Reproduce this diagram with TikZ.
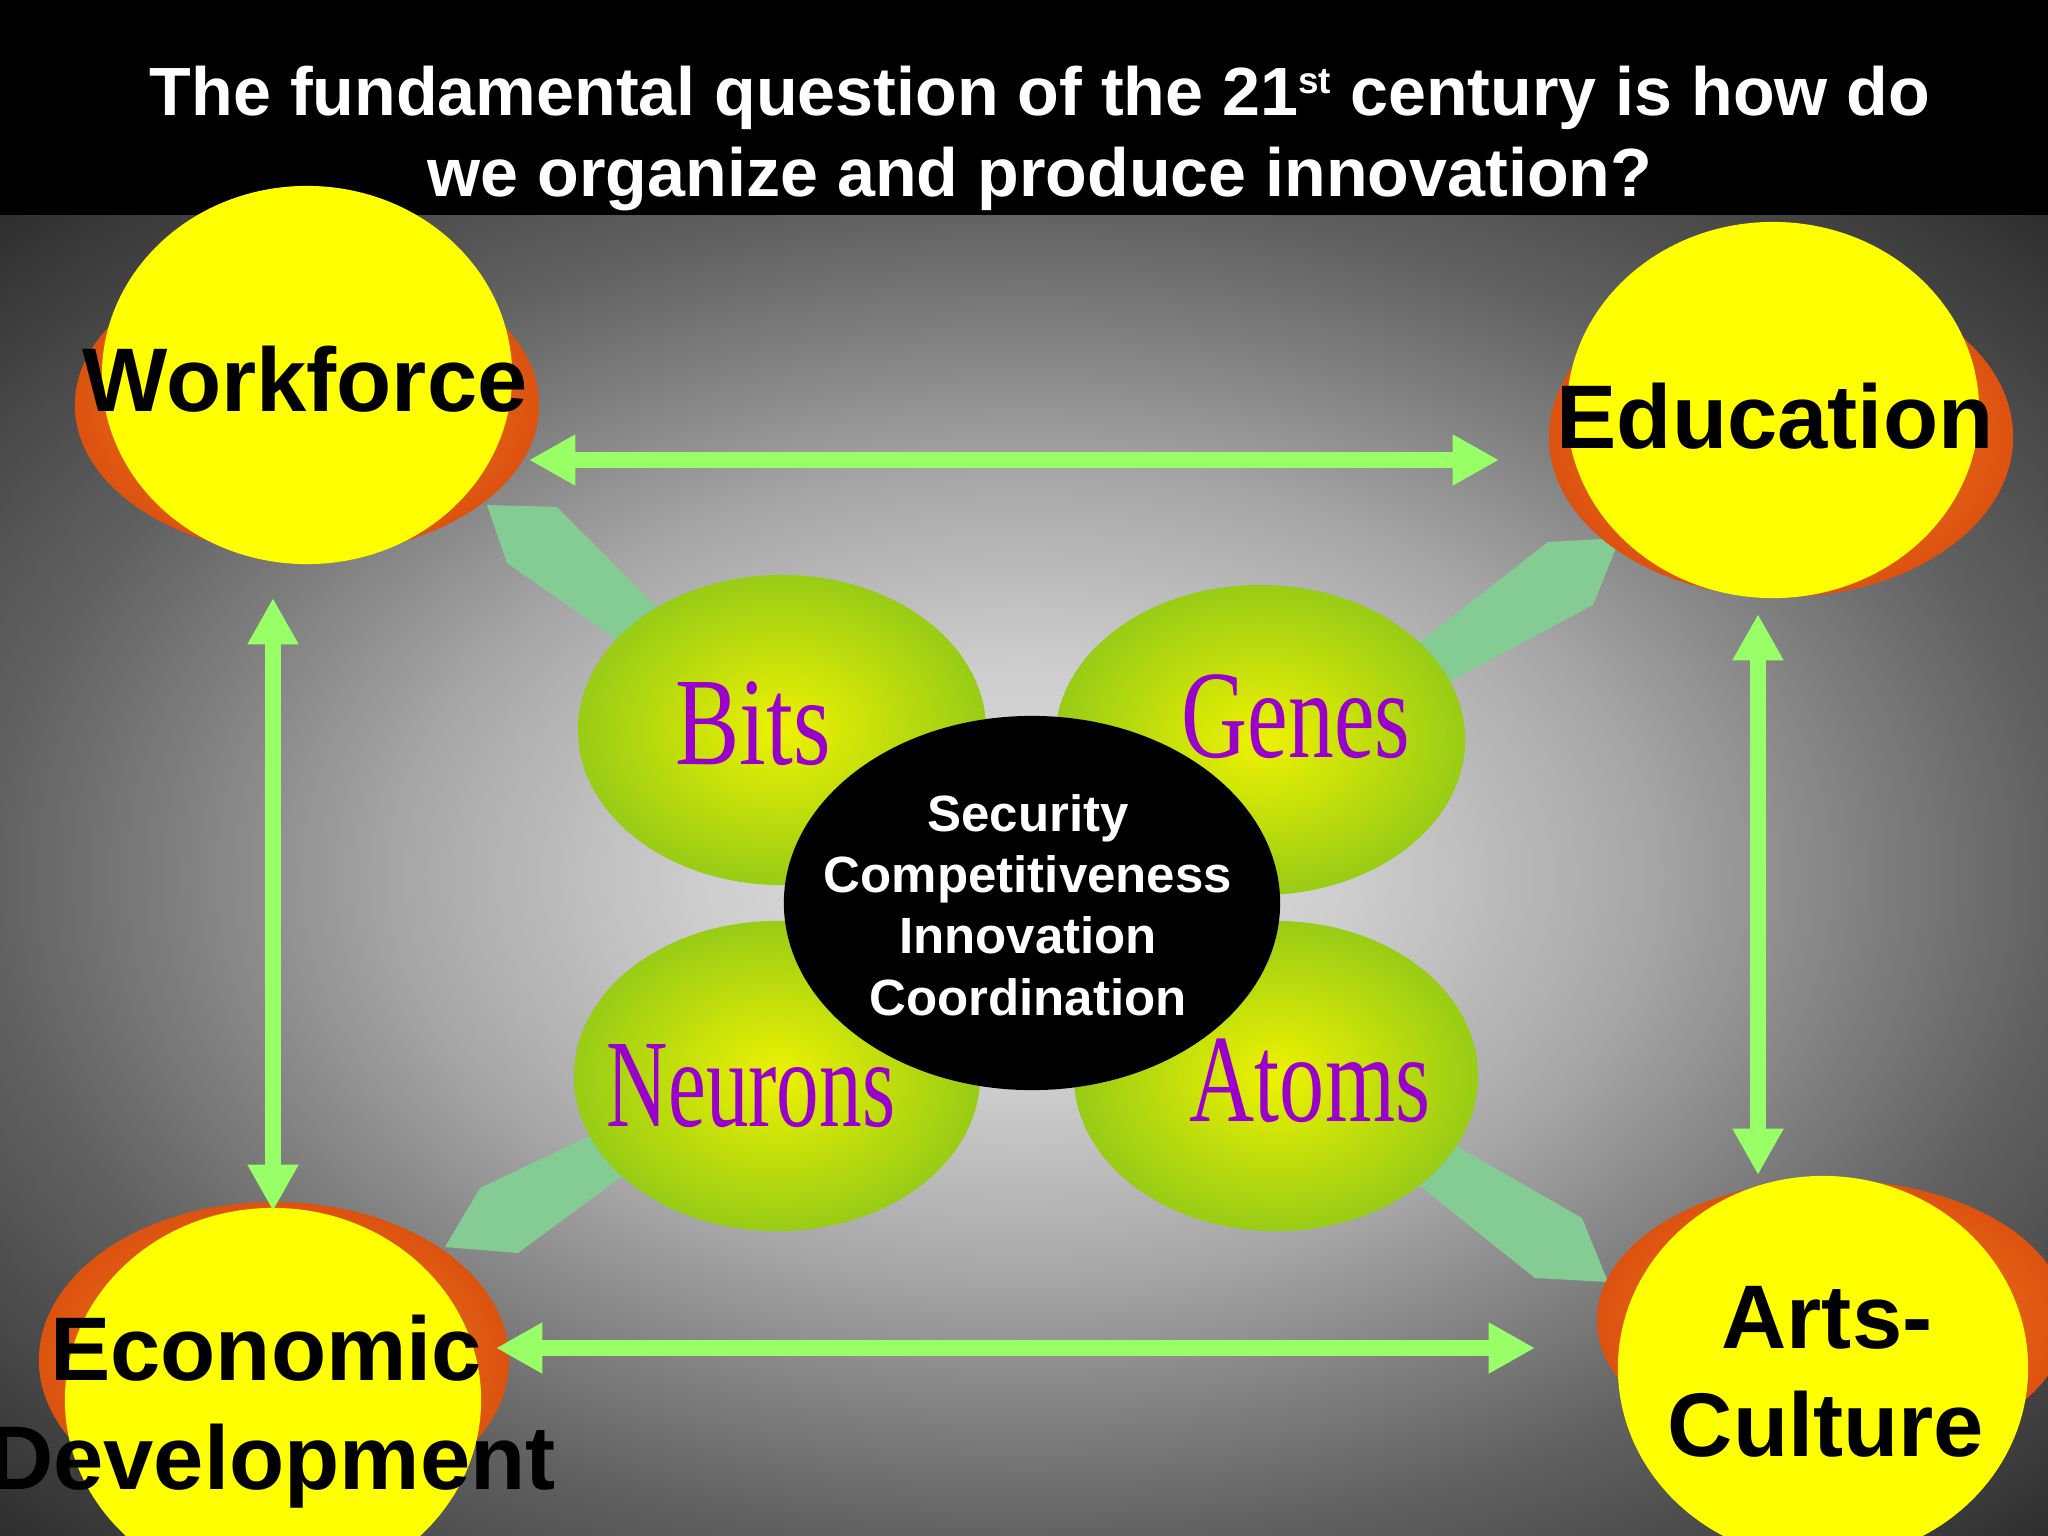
\documentclass[tikz,border=0pt]{standalone}
\usepackage{fontspec}
\setmainfont{Liberation Sans}
\newfontfamily\seriffont{Liberation Serif}
\usetikzlibrary{shapes.geometric,arrows.meta}
\definecolor{bgA}{RGB}{226,226,226}
\definecolor{bgB}{RGB}{205,205,205}
\definecolor{bgC}{RGB}{168,168,168}
\definecolor{bgD}{RGB}{132,132,132}
\definecolor{bgE}{RGB}{98,98,98}
\definecolor{bgF}{RGB}{48,48,48}
\definecolor{arrowgreen}{RGB}{153,255,102}
\definecolor{bandgreen}{RGB}{132,203,148}
\definecolor{sunyellow}{RGB}{255,255,0}
\definecolor{orangein}{RGB}{245,140,30}
\definecolor{orangeout}{RGB}{220,82,16}
\definecolor{bubblein}{RGB}{238,242,0}
\definecolor{bubbleout}{RGB}{152,204,22}
\definecolor{wordpurple}{RGB}{153,0,204}
\pgfdeclareradialshading{bgshade}{\pgfpoint{0bp}{0bp}}{color(0bp)=(bgA); color(8bp)=(bgB); color(15bp)=(bgC); color(20bp)=(bgD); color(25bp)=(bgE); color(35bp)=(bgF); color(50bp)=(bgF)}
\tikzset{
  garrow/.style={draw=arrowgreen, line width=4.55pt,
    {Triangle[width=13.6pt,length=13.2pt]}-{Triangle[width=13.6pt,length=13.2pt]}},
  band/.style={fill=bandgreen},
  sun/.style={ellipse, fill=sunyellow, inner sep=0pt},
  glow/.style={ellipse, inner sep=0pt, shading=radial, inner color=orangein, outer color=orangeout},
  bubble/.style={ellipse, inner sep=0pt, shading=radial, inner color=bubblein, outer color=bubbleout},
  bigword/.style={anchor=base, text=black, font=\fontsize{25.7pt}{30pt}\selectfont\bfseries},
  seedword/.style={anchor=base, text=wordpurple},
  titleline/.style={anchor=base, text=white, font=\fontsize{19.4pt}{23pt}\selectfont\bfseries},
  coreline/.style={anchor=base, text=white, font=\fontsize{14.5pt}{17.4pt}\selectfont\bfseries},
}
\newcommand{\seedtext}[2]{\scalebox{#1}[1]{\seriffont\fontsize{35.6pt}{40pt}\selectfont #2}}
\newcommand{\smallsup}[1]{\raisebox{6.2pt}{\fontsize{10.5pt}{12pt}\selectfont #1}}
\begin{document}
\begin{tikzpicture}[x=0.01cm, y=-0.01cm]
\useasboundingbox (0,0) rectangle (2048,1536);
\clip (0,0) rectangle (2048,1536);
% background
\shade[shading=bgshade] (0,215) rectangle (2048,1536);
\fill[black] (0,0) rectangle (2048,215);
% title
\node[titleline] (title1) at (1040,115) {The fundamental question of the 21\smallsup{st} century is how do};
\node[titleline] (title2) at (1040,196) {we organize and produce innovation?};
% diagonal bands
\fill[band] (707,657) -- (557,507) -- (487,505) -- (507,563) -- (666,674) -- cycle;
\fill[band] (1359,689) -- (1548,542) -- (1620,538) -- (1593,605) -- (1383,717) -- cycle;
\fill[band] (640,1112) -- (480,1188) -- (445,1247) -- (518,1253) -- (671,1140) -- cycle;
\fill[band] (1399,1113) -- (1582,1218) -- (1608,1282) -- (1535,1278) -- (1366,1143) -- cycle;
% corner circles
\node[glow, minimum width=4.64cm, minimum height=3.00cm] (wfglow) at (307,405) {};
\node[sun, minimum width=4.10cm, minimum height=3.78cm] (wf) at (307,375) {};
\node[glow, minimum width=4.64cm, minimum height=3.20cm] (edglow) at (1781,437) {};
\node[sun, minimum width=4.12cm, minimum height=3.76cm] (ed) at (1773,410) {};
\node[glow, minimum width=4.70cm, minimum height=3.16cm] (ecglow) at (274,1360) {};
\node[sun, minimum width=4.16cm, minimum height=3.84cm] (ec) at (273,1400) {};
\node[glow, minimum width=4.70cm, minimum height=2.80cm] (acglow) at (1832,1320) {};
\node[sun, minimum width=4.10cm, minimum height=3.84cm] (ac) at (1823,1368) {};
% green arrows
\coordinate (wfE) at (529,460);
\coordinate (edW) at (1499,460);
\coordinate (ecE) at (496,1348);
\coordinate (acW) at (1535,1348);
\coordinate (wfS) at (273,598);
\coordinate (ecN) at (273,1211);
\coordinate (edS) at (1758,614);
\coordinate (acN) at (1758,1175);
\draw[garrow] (wfE) -- (edW);
\draw[garrow] (ecE) -- (acW);
\draw[garrow] (wfS) -- (ecN);
\draw[garrow] (edS) -- (acN);
% bubbles
\node[bubble, minimum width=4.08cm, minimum height=3.10cm] (bits) at (782,730) {};
\node[bubble, minimum width=4.10cm, minimum height=3.10cm] (genes) at (1260,740) {};
\node[bubble, minimum width=4.06cm, minimum height=3.10cm] (neurons) at (777,1076) {};
\node[bubble, minimum width=4.04cm, minimum height=3.10cm] (atoms) at (1276,1076) {};
\node[ellipse, fill=black, inner sep=0pt, minimum width=4.96cm, minimum height=3.74cm] (core) at (1032,903) {};
% texts
\node[bigword] (wft) at (305,411) {Workforce};
\node[bigword] (edt) at (1775,448) {Education};
\node[bigword] (ect1) at (266,1380) {Economic};
\node[bigword] (ect2) at (272,1489) {Development};
\node[bigword] (act1) at (1827,1348) {Arts-};
\node[bigword] (act2) at (1826,1456) {Culture};
\node[seedword] (bitst) at (753,764) {\seedtext{0.77}{Bits}};
\node[seedword] (genest) at (1296,757) {\seedtext{0.73}{Genes}};
\node[seedword] (neuronst) at (751,1126) {\seedtext{0.68}{Neurons}};
\node[seedword] (atomst) at (1310,1121) {\seedtext{0.72}{Atoms}};
\node[coreline] (c1) at (1028,831) {Security};
\node[coreline] (c2) at (1028,892) {Competitiveness};
\node[coreline] (c3) at (1028,953) {Innovation};
\node[coreline] (c4) at (1028,1015) {Coordination};
\end{tikzpicture}
\end{document}
